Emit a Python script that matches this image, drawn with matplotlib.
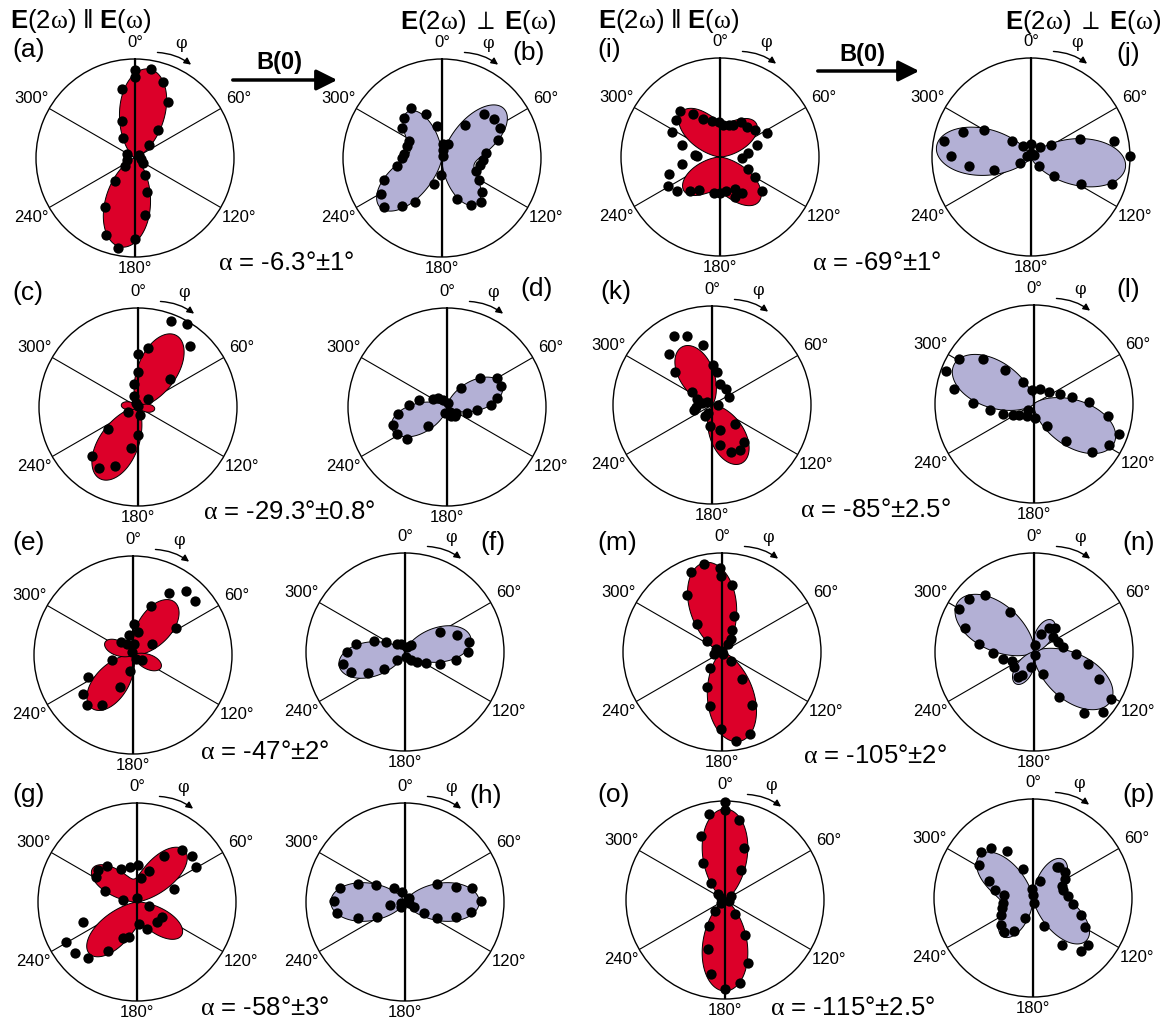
import numpy as np
import matplotlib.pyplot as plt
from matplotlib.patches import FancyArrowPatch

plt.rcParams['font.family'] = ['Liberation Sans', 'DejaVu Sans']
plt.rcParams['mathtext.fontset'] = 'custom'
plt.rcParams['mathtext.rm'] = 'Liberation Sans'
plt.rcParams['mathtext.bf'] = 'Liberation Sans:bold'
plt.rcParams['mathtext.it'] = 'Liberation Serif'

W, H = 1167, 1029
R = 99
RED = '#dc0029'
LAV = '#b3b0d5'

# measured points, (x, y) in units of the circle radius, x to the right, y up
dots_a = [(0, .89), (.16, .90), (0, .82), (.28, .77), (-.13, .70), (.33, .57), (-.13, .37), (.23, .28),
          (-.12, .20), (.14, .13), (-.08, .04), (.04, .03), (.06, -.01), (-.08, -.02), (.08, -.05),
          (-.10, -.08), (.10, -.17), (-.20, -.23), (.12, -.34), (-.30, -.49), (.10, -.58), (-.29, -.78),
          (0, -.82), (-.17, -.91)]
dots_b = [(-.31, .50), (-.16, .44), (-.38, .40), (-.05, .32), (-.40, .30), (-.33, .17), (-.35, .12),
          (-.38, .04), (-.40, 0), (-.45, -.08), (-.59, -.22), (-.08, -.26), (-.62, -.36), (-.59, -.49),
          (-.40, -.48), (-.27, -.44), (.01, .14), (.06, .14), (.01, .08), (.01, .02), (-.01, -.17),
          (.42, .44), (.53, .39), (.23, .33), (.59, .30), (.57, .18), (.44, .05), (.41, -.02), (.38, -.07),
          (.34, -.13), (.37, -.22), (.40, -.34), (.15, -.41), (.29, -.47), (.39, -.44)]
dots_c = [(.33, .87), (.49, .84), (.53, .62), (.10, .60), (0, .54), (0, .35), (-.04, .23), (.32, .28),
          (.10, .08), (-.04, .11), (-.02, .04), (0, .01), (-.10, -.05), (.02, -.08), (0, -.28), (-.30, -.22),
          (-.07, -.41), (-.46, -.50), (-.39, -.62), (-.23, -.60)]
dots_d = [(.33, .29), (.50, .29), (.55, .21), (.51, .09), (.44, .02), (.30, -.03), (.20, -.06), (.14, .19),
          (.09, -.06), (.04, -.09), (-.02, -.06), (-.04, .07), (-.09, .09), (-.14, .08), (-.28, .07),
          (-.38, .02), (-.49, -.07), (-.55, -.18), (-.51, -.27), (-.40, -.32), (-.19, -.19), (.03, -.05),
          (.08, -.09), (.01, .04)]
dots_e = [(.36, .63), (.54, .65), (.63, .55), (.18, .49), (.43, .27), (.01, .31), (.05, .23), (-.04, .20),
          (.19, .11), (-.12, .13), (-.06, .11), (.01, .11), (-.01, .03), (.09, -.05), (.03, -.04),
          (-.21, -.05), (-.03, -.16), (-.13, -.32), (-.45, -.22), (-.51, -.39), (-.46, -.51), (-.31, -.50)]
dots_f = [(.35, .20), (.53, .17), (.65, .10), (.64, 0), (.52, -.08), (.35, -.12), (.21, -.11), (.12, -.10),
          (.06, -.08), (.01, -.05), (.02, .05), (-.04, .08), (-.08, .08), (-.19, .10), (-.31, .11),
          (-.49, .08), (-.59, 0), (-.63, -.12), (-.55, -.20), (-.37, -.21), (-.21, -.17), (-.08, -.08),
          (.06, .07)]
dots_g = [(.45, .53), (.56, .46), (.60, .35), (.27, .46), (.12, .31), (.04, .24), (.37, .13), (.01, .37),
          (-.07, .35), (-.16, .33), (-.30, .36), (-.39, .32), (-.41, .25), (-.32, .11), (-.14, .02),
          (0, .04), (.12, -.04), (.02, -.22), (.10, -.27), (.20, -.20), (.25, -.15), (-.08, -.35),
          (-.14, -.36), (-.29, -.49), (-.55, -.20), (-.72, -.40), (-.63, -.52), (-.49, -.57)]
dots_h = [(.32, .18), (.52, .15), (.68, .14), (.77, .01), (.67, -.10), (.52, -.15), (.32, -.16), (.19, -.11),
          (.09, -.05), (.04, -.01), (-.03, .10), (-.11, .14), (-.29, .17), (-.47, .18), (-.66, .14),
          (-.72, .01), (-.69, -.11), (-.47, -.16), (-.28, -.15), (-.15, -.03), (-.04, -.01), (.04, .04),
          (-.04, -.05)]
dots_i = [(-.40, .46), (-.27, .43), (-.17, .38), (-.08, .36), (-.01, .35), (.03, .32), (.09, .32), (.13, .32),
          (.21, .35), (.27, .30), (.35, .27), (.47, .24), (.37, .12), (.28, .04), (.22, -.01), (-.44, .37),
          (-.48, .25), (-.38, .12), (-.25, .02), (-.38, -.07), (-.52, -.17), (-.53, -.29), (-.43, -.34),
          (-.30, -.34), (-.21, -.33), (-.06, -.36), (0, -.36), (.06, -.34), (.15, -.32), (.22, -.36),
          (.15, -.40), (.42, -.34), (.35, -.20), (.28, -.12), (-.23, .01)]
dots_j = [(-.88, .16), (-.69, .25), (-.47, .27), (-.81, .01), (-.63, -.09), (-.37, -.13), (-.19, .16),
          (-.08, .11), (0, .13), (.09, .10), (.20, .12), (-.11, -.06), (-.04, .01), (0, .04), (.03, .02),
          (.08, -.09), (.23, -.19), (.49, .18), (.84, .16), (1.0, .01), (.50, -.27), (.82, -.27)]
dots_k = [(-.38, .70), (-.25, .70), (-.09, .61), (-.43, .52), (-.37, .33), (.01, .40), (.05, .33), (.08, .21),
          (.14, .16), (.17, .08), (-.20, .13), (-.15, .06), (-.10, .02), (-.05, .03), (.06, 0), (-.16, -.02),
          (-.18, -.05), (-.07, -.11), (-.04, -.08), (-.02, -.21), (.08, -.40), (.23, -.19), (.32, -.37),
          (.19, -.47), (.28, -.45), (.08, -.25)]
dots_l = [(-.76, .45), (-.52, .45), (-.89, .33), (-.81, .15), (-.29, .34), (-.11, .22), (-.02, .14), (.06, .15),
          (.15, .12), (.26, .10), (.38, .07), (.56, .02), (.75, -.12), (.86, -.30), (.76, -.41), (.59, -.48),
          (.32, -.37), (.13, -.22), (.01, -.14), (-.07, -.12), (-.15, -.11), (-.21, -.11), (-.31, -.10),
          (-.44, -.06), (-.62, .01), (-.06, -.06)]
dots_m = [(-.18, .89), (-.31, .81), (-.02, .85), (-.01, .77), (.10, .68), (-.35, .58), (.12, .36), (-.25, .28),
          (.10, .22), (.09, .13), (-.15, .11), (.06, .08), (-.06, .03), (-.08, -.02), (.01, -.02), (0, .01),
          (.09, -.09), (-.12, -.16), (-.15, -.35), (.20, -.27), (.30, -.54), (-.12, -.55), (-.01, -.78),
          (.14, -.90), (.28, -.83)]
dots_n = [(-.66, .54), (-.49, .58), (-.76, .43), (-.70, .24), (-.24, .40), (-.56, .08), (-.41, -.01),
          (-.31, -.07), (-.22, -.09), (-.20, -.15), (-.16, -.25), (-.12, -.23), (-.03, -.15), (.01, .07),
          (.07, .18), (.15, .24), (.21, .24), (.19, .15), (.24, .10), (.29, .05), (.42, -.02), (.55, -.12),
          (.66, -.27), (.78, -.47), (.70, -.61), (.51, -.62), (.25, -.45), (.09, -.22), (.01, -.03)]
dots_o = [(0, .99), (-.16, .87), (0, .91), (.14, .81), (-.24, .65), (.19, .53), (-.22, .37), (.16, .30),
          (-.14, .17), (-.07, .06), (-.04, .02), (.06, .04), (.04, -.01), (-.04, -.03), (-.10, -.11),
          (.10, -.14), (-.16, -.26), (.20, -.35), (-.17, -.49), (.23, -.64), (-.14, -.75), (.15, -.84),
          (0, -.90)]
dots_p = [(-.53, .46), (-.42, .51), (-.26, .47), (-.55, .33), (-.10, .29), (-.44, .17), (-.38, .08),
          (-.29, .03), (-.30, -.05), (-.31, -.10), (-.32, -.17), (-.32, -.27), (-.29, -.34), (-.19, -.33),
          (-.08, -.20), (-.01, .09), (0, .03), (.01, -.05), (.07, .17), (.26, .31), (.32, .26), (.32, .19),
          (.29, .12), (.30, .08), (.35, .02), (.40, -.06), (.48, -.17), (.53, -.29), (.11, -.28), (.29, -.47),
          (.48, -.54), (.56, -.47), (.24, .31)]

# fitted lobes, each (axis in deg, e, b, peak radius):
# r ~ [cos(psi) * (cos^2 + e cos sin + b sin^2)]^2, psi = phi - axis
fits = {
    'a': [(9, 0, 0.2, .91)],
    'b': [(96, -0.32, 3.0, .80)],
    'c': [(28, 0, 0.1, .82), (97, 0, 0, .17)],
    'd': [(68, 0, 0.2, .60)],
    'e': [(38, 0, 0.15, .68), (114, 0, 0, .31)],
    'f': [(78, 0, 0.25, .68)],
    'g': [(-4, 0.28, 3.6, .71)],
    'h': [(90, 0, 0.25, .75)],
    'i': [(2, -0.15, 2.5, .60)],
    'j': [(96, 0, 0.15, .96)],
    'k': [(333, 0, 0.3, .66)],
    'l': [(296, 0, 0.3, .90)],
    'm': [(349, 0, 0.25, .92)],
    'n': [(303, 0, 0.25, .92), (30, 0, 0, .37)],
    'o': [(0, 0, 0.15, .92)],
    'p': [(85, 0.31, 2.8, .69)],
}
dots = {'a': dots_a, 'b': dots_b, 'c': dots_c, 'd': dots_d, 'e': dots_e, 'f': dots_f, 'g': dots_g,
        'h': dots_h, 'i': dots_i, 'j': dots_j, 'k': dots_k, 'l': dots_l, 'm': dots_m, 'n': dots_n,
        'o': dots_o, 'p': dots_p}

# circle centres (pixels)
centres = {'a': (135, 158), 'b': (442, 158), 'i': (720, 157), 'j': (1031, 157),
           'c': (138, 407), 'd': (447, 407), 'k': (712, 405), 'l': (1034, 404),
           'e': (133, 655), 'f': (405, 652), 'm': (722, 652), 'n': (1034, 652),
           'g': (137, 902), 'h': (405, 902), 'o': (725, 900), 'p': (1033, 898)}
red_panels = 'acegikmo'

# panel letters: x (px), y (px), alignment
letters = {'a': (12, 50, 'left'), 'c': (12, 293, 'left'), 'e': (12, 543, 'left'), 'g': (12, 795, 'left'),
           'i': (597, 50, 'left'), 'k': (600, 292, 'left'), 'm': (597, 543, 'left'), 'o': (597, 795, 'left'),
           'b': (545, 53, 'right'), 'd': (553, 289, 'right'), 'f': (505, 543, 'right'), 'h': (502, 796, 'right'),
           'j': (1140, 54, 'right'), 'l': (1140, 290, 'right'), 'n': (1155, 543, 'right'), 'p': (1155, 795, 'right')}

alpha_texts = ['-6.3°±1°', '-29.3°±0.8°', '-47°±2°', '-58°±3°', '-69°±1°', '-85°±2.5°', '-105°±2°', '-115°±2.5°']
alpha_pos = [(218, 263), (203, 512), (200, 752), (200, 1008), (812, 263), (800, 510), (803, 756), (770, 1008)]

angle_labels = [0, 60, 120, 180, 240, 300]


def fx(x):
    return x / W


def fy(y):
    return 1 - y / H


def lobe(phi, axis, e, b, peak):
    psi = phi - np.radians(axis)
    c, s = np.cos(psi), np.sin(psi)
    p2 = (c * (c * c + e * c * s + b * s * s)) ** 2
    return peak * p2 / p2.max()


fig = plt.figure(figsize=(W / 100, H / 100), dpi=100)
phi = np.linspace(0, 2 * np.pi, 1441)

for key in 'abcdefghijklmnop':
    cx, cy = centres[key]
    ax = fig.add_axes([fx(cx - R), fy(cy + R), 2 * R / W, 2 * R / H], projection='polar')
    ax.set_theta_zero_location('N')
    ax.set_theta_direction(-1)
    ax.set_ylim(0, 1)
    ax.set_yticks([])
    ax.set_xticks(np.radians(angle_labels))
    ax.set_xticklabels([])
    ax.set_xticks(np.radians([a for a in range(0, 360, 20) if a % 60]), minor=True)
    ax.tick_params(axis='x', which='major', length=0)
    ax.tick_params(axis='x', which='minor', length=3, width=0.6, direction='in')
    ax.xaxis.grid(True, color='black', lw=0.8)
    ax.spines['polar'].set_linewidth(1.0)

    col = RED if key in red_panels else LAV
    for (axis, e, b, peak) in fits[key]:
        ax.fill(phi, lobe(phi, axis, e, b, peak), facecolor=col, edgecolor='black', lw=0.7, zorder=2)
    ax.plot([0, 0], [0, 1], color='black', lw=1.6, zorder=3)
    ax.plot([np.pi, np.pi], [0, 1], color='black', lw=1.6, zorder=3)

    pts = np.array(dots[key])
    th = np.arctan2(pts[:, 0], pts[:, 1])
    rr = np.hypot(pts[:, 0], pts[:, 1])
    ax.scatter(th, rr, s=55, color='black', zorder=4, clip_on=False, linewidths=0)

    for a in angle_labels:
        rl = 1.17 if a == 0 else (1.12 if a == 180 else 1.21)
        ax.text(np.radians(a), rl, f'{a}°', ha='center', va='center', fontsize=12)

    ax.annotate('', xy=(np.radians(31), 1.10), xytext=(np.radians(12), 1.09),
                arrowprops=dict(arrowstyle='-|>', connectionstyle='arc3,rad=-0.15', lw=1.0,
                                color='black', mutation_scale=10, shrinkA=0, shrinkB=0),
                annotation_clip=False)
    ax.text(np.radians(22), 1.25, 'φ', ha='center', va='center', fontsize=12, family='DejaVu Serif')

    lx, ly, ha = letters[key]
    fig.text(fx(lx), fy(ly), f'({key})', ha=ha, va='center', fontsize=19)

for txt, (x, y) in zip(alpha_texts, alpha_pos):
    fig.text(fx(x), fy(y), r'$\alpha$ = ' + txt, ha='left', va='center', fontsize=18.5)

par = r'$\mathbf{E}(2\omega)\ \|\ \mathbf{E}(\omega)$'
perp = r'$\mathbf{E}(2\omega)\ \perp\ \mathbf{E}(\omega)$'
fig.text(fx(10), fy(21), par, ha='left', va='center', fontsize=18.5)
fig.text(fx(598), fy(21), par, ha='left', va='center', fontsize=18.5)
fig.text(fx(557), fy(22), perp, ha='right', va='center', fontsize=18.5)
fig.text(fx(1162), fy(22), perp, ha='right', va='center', fontsize=18.5)

for (x0, x1, yl, yt) in [(230, 340, 80, 62), (815, 922, 71, 55)]:
    fig.add_artist(FancyArrowPatch((fx(x0), fy(yl)), (fx(x1), fy(yl)), transform=fig.transFigure,
                                   arrowstyle='-|>,head_length=0.7,head_width=0.35', mutation_scale=18,
                                   lw=2.5, color='black'))
    fig.text(fx((x0 + x1) / 2 - 6), fy(yt), 'B(0)', ha='center', va='center', fontsize=17, weight='bold')

fig.savefig('out.png', dpi=100)
